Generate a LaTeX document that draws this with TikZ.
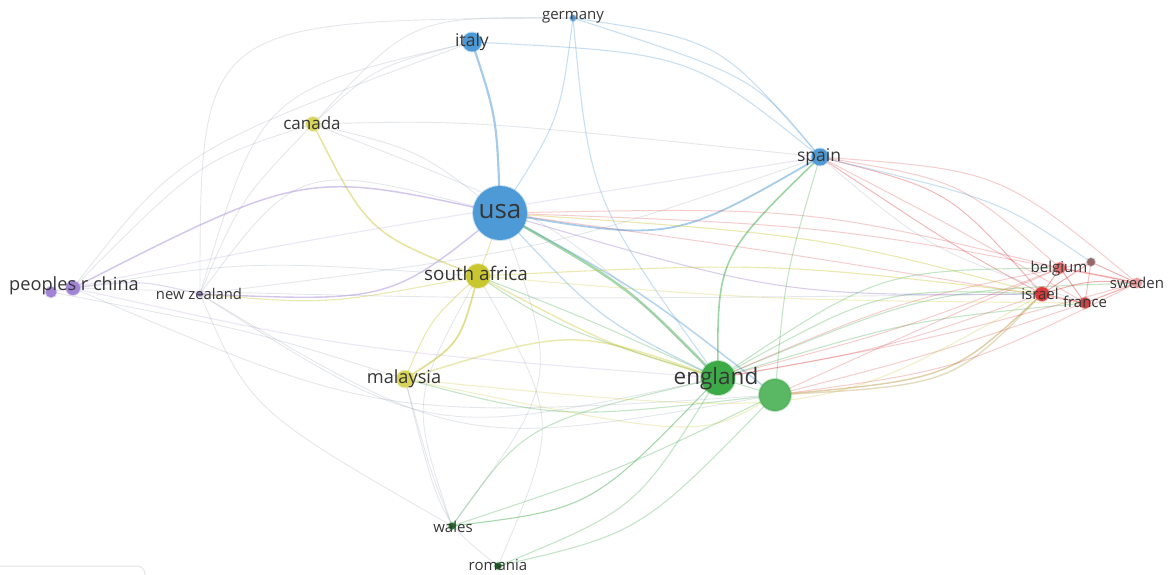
\documentclass[tikz,border=0pt]{standalone}
\usepackage{fontspec}
\setmainfont{Open Sans}
\usetikzlibrary{backgrounds}
\definecolor{cblue}{HTML}{4E9AD6}
\definecolor{cyel}{HTML}{C9C630}
\definecolor{cyel2}{HTML}{D8D45A}
\definecolor{cgreen}{HTML}{3DAA48}
\definecolor{cpurp}{HTML}{A184D6}
\definecolor{cred}{HTML}{D9393B}
\definecolor{cgrey}{HTML}{9AA3B5}
\definecolor{ctan}{HTML}{C8B070}
\definecolor{txt}{HTML}{363636}
\begin{document}
\begin{tikzpicture}[x=1pt,y=-1pt,
  nd/.style={circle, inner sep=0pt, line width=2pt, draw opacity=0.3},
  lbl/.style={text=txt, inner sep=0pt},
  eb/.style={draw=cblue, line width=1.1pt, draw opacity=0.3},
  eg/.style={draw=cgreen, line width=1.1pt, draw opacity=0.3},
  ey/.style={draw=cyel, line width=1.1pt, draw opacity=0.38},
  ep/.style={draw=cpurp, line width=1.1pt, draw opacity=0.3},
  er/.style={draw=cred, line width=1.0pt, draw opacity=0.25},
  ex/.style={draw=cgrey, line width=0.9pt, draw opacity=0.26},
  et/.style={draw=ctan, line width=1.4pt, draw opacity=0.6}]
\useasboundingbox (0,0) rectangle (1170,574);

% nodes
\node[nd, fill=cblue, draw=cblue, minimum size=54pt] (usa) at (500,213) {};
\node[nd, fill=cblue, draw=cblue, minimum size=19pt] (italy) at (472,42) {};
\node[nd, fill=cblue!70!gray, draw=cblue, minimum size=6pt] (germany) at (573,18) {};
\node[nd, fill=cyel2, draw=cyel2, minimum size=14pt] (canada) at (313,124) {};
\node[nd, fill=cblue, draw=cblue, minimum size=17pt] (spain) at (820,157) {};
\node[nd, fill=cyel, draw=cyel, minimum size=24pt] (saf) at (478,276) {};
\node[nd, fill=cpurp, draw=cpurp, minimum size=11pt] (chinaA) at (51,292) {};
\node[nd, fill=cpurp, draw=cpurp, minimum size=14pt] (chinaB) at (73,288) {};
\node[nd, fill=cpurp!60!gray, draw=cpurp, minimum size=5pt] (nz) at (200,294) {};
\node[nd, fill=cyel2, draw=cyel2, minimum size=17pt] (malay) at (405,379) {};
\node[nd, fill=cgreen, draw=cgreen, minimum size=34pt] (eng) at (718,378) {};
\node[nd, fill=cgreen!85!white, draw=cgreen, minimum size=32pt] (gnode) at (775,395) {};
\node[nd, fill=cgreen!60!black, draw=cgreen, minimum size=7pt] (wales) at (452,526) {};
\node[nd, fill=cgreen!50!black, draw=cgreen, minimum size=7pt] (romania) at (498,566) {};
\node[nd, fill=cred!75!white, draw=cred, minimum size=11pt] (belg) at (1060,268) {};
\node[nd, fill=gray!80!red, draw=gray, minimum size=8pt] (greyn) at (1091,262) {};
\node[nd, fill=cred, draw=cred, minimum size=14pt] (israel) at (1042,294) {};
\node[nd, fill=cred!80!gray, draw=cred, minimum size=11pt] (france) at (1085,303) {};
\node[nd, fill=cred!50!white, draw=cred!50!white, minimum size=10pt] (sweden) at (1137,283) {};

\begin{pgfonlayer}{background}
\fill[white] (0,0) rectangle (1170,574);
% faint legend box
\draw[gray!20, line width=1pt, rounded corners=8pt] (-10,566) -- (145,566) -- (145,600);

% blue
\draw[eb, line width=2.2pt, draw opacity=0.5] (usa.center) .. controls (497,118) .. (italy.center);
\draw[eb, line width=1.8pt, draw opacity=0.5] (usa.center) .. controls (673,242) .. (spain.center);
\draw[eb, line width=1.6pt, draw opacity=0.4] (usa.center) .. controls (640,290) .. (gnode.center);
\draw[eg, line width=2.6pt, draw opacity=0.45] (usa.center) .. controls (628,286) .. (eng.center);
\draw[eb, line width=1.2pt, draw opacity=0.35] (usa.center) .. controls (600,320) .. (eng.center);
\draw[eb] (italy.center) .. controls (691,53) .. (spain.center);
\draw[eb] (germany.center) .. controls (755,77) .. (spain.center);
\draw[eb] (germany.center) .. controls (720,40) .. (spain.center);
\draw[eb] (germany.center) .. controls (590,200) .. (eng.center);
\draw[eb] (germany.center) .. controls (560,120) .. (usa.center);
\draw[ex] (germany.center) .. controls (412,16) .. (canada.center);
\draw[ex] (germany.center) .. controls (200,20) .. (nz.center);
\draw[ex] (italy.center) .. controls (376,66) .. (canada.center);
\draw[ex] (italy.center) .. controls (261,91) .. (nz.center);
\draw[ex] (italy.center) .. controls (180,150) .. (chinaB.center);
\draw[ep, draw opacity=0.4] (usa.center) .. controls (783,296) .. (israel.center);
\draw[er] (usa.center) .. controls (807,207) .. (belg.center);
\draw[er] (usa.center) .. controls (830,225) .. (sweden.center);
\draw[er] (usa.center) .. controls (800,255) .. (france.center);
\draw[ey] (usa.center) .. controls (820,235) .. (israel.center);
% spain to red cluster
\draw[er, draw opacity=0.35] (spain.center) .. controls (950,190) .. (israel.center);
\draw[er, draw opacity=0.35] (spain.center) .. controls (960,250) .. (israel.center);
\draw[er] (spain.center) .. controls (1000,170) .. (sweden.center);
\draw[er] (spain.center) .. controls (960,230) .. (france.center);
\draw[er] (spain.center) .. controls (960,180) .. (belg.center);
\draw[eb] (spain.center) .. controls (1000,200) .. (greyn.center);
\draw[ex] (spain.center) .. controls (930,250) .. (france.center);
% green
\draw[eg, line width=1.6pt, draw opacity=0.5] (spain.center) .. controls (717,257) .. (eng.center);
\draw[eg] (spain.center) .. controls (785,275) .. (gnode.center);
\draw[eg, draw opacity=0.45] (eng.center) .. controls (592,509) .. (wales.center);
\draw[eg] (eng.center) .. controls (525,423) .. (wales.center);
\draw[eg] (eng.center) .. controls (637,509) .. (romania.center);
\draw[eg] (gnode.center) .. controls (641,533) .. (romania.center);
\draw[eg] (gnode.center) .. controls (620,470) .. (wales.center);
\draw[eg] (eng.center) .. controls (590,320) .. (saf.center);
\draw[eg] (gnode.center) .. controls (560,330) .. (saf.center);
\draw[ex] (nz.center) .. controls (430,440) .. (eng.center);
\draw[ex] (nz.center) .. controls (460,450) .. (gnode.center);
\draw[ex] (chinaB.center) .. controls (380,420) .. (gnode.center);
\draw[eg] (malay.center) .. controls (560,420) .. (gnode.center);
\draw[eg] (eng.center) .. controls (880,288) .. (israel.center);
\draw[eg] (eng.center) .. controls (880,270) .. (belg.center);
\draw[eg] (eng.center) .. controls (910,320) .. (france.center);
\draw[eg] (eng.center) .. controls (930,290) .. (sweden.center);
\draw[et] (gnode.center) .. controls (951,379) .. (israel.center);
\draw[et, draw opacity=0.45] (gnode.center) .. controls (953,385) .. (israel.center);
\draw[er] (gnode.center) .. controls (940,320) .. (belg.center);
\draw[er] (gnode.center) .. controls (960,370) .. (sweden.center);
\draw[er] (gnode.center) .. controls (930,355) .. (france.center);
\draw[er] (eng.center) .. controls (880,350) .. (israel.center);
\draw[er] (eng.center) .. controls (900,330) .. (belg.center);
\draw[er] (eng.center) .. controls (930,340) .. (sweden.center);
\draw[er] (eng.center) .. controls (900,300) .. (greyn.center);
% yellow
\draw[ey, line width=1.6pt, draw opacity=0.45] (saf.center) .. controls (368,233) .. (canada.center);
\draw[ey, line width=1.7pt, draw opacity=0.55] (saf.center) .. controls (460,344) .. (malay.center);
\draw[ey] (saf.center) .. controls (430,320) .. (malay.center);
\draw[ey, line width=1.5pt] (malay.center) .. controls (573,327) .. (eng.center);
\draw[ey, line width=1.4pt] (saf.center) .. controls (608,345) .. (eng.center);
\draw[ey] (saf.center) .. controls (327,305) .. (nz.center);
\draw[ey] (saf.center) .. controls (490,245) .. (usa.center);
\draw[ey] (saf.center) .. controls (770,262) .. (israel.center);
\draw[ey, draw opacity=0.25] (saf.center) .. controls (760,300) .. (france.center);
\draw[ey, draw opacity=0.25] (malay.center) .. controls (820,420) .. (israel.center);
\draw[ey, draw opacity=0.25] (malay.center) .. controls (700,440) .. (gnode.center);
\draw[ex] (canada.center) .. controls (240,200) .. (nz.center);
\draw[ex] (canada.center) .. controls (420,150) .. (usa.center);
\draw[ex] (canada.center) .. controls (470,120) .. (spain.center);
\draw[ex] (canada.center) .. controls (560,220) .. (eng.center);
\draw[ex] (saf.center) .. controls (410,400) .. (wales.center);
\draw[ex] (malay.center) .. controls (430,470) .. (wales.center);
\draw[ex] (saf.center) .. controls (560,420) .. (romania.center);
\draw[ex] (usa.center) .. controls (560,380) .. (wales.center);
\draw[ex] (malay.center) .. controls (440,520) .. (romania.center);
% purple
\draw[ep, line width=1.5pt, draw opacity=0.45] (chinaB.center) .. controls (305,170) .. (usa.center);
\draw[ep, line width=1.4pt, draw opacity=0.45] (nz.center) .. controls (390,302) .. (usa.center);
\draw[ep] (chinaB.center) .. controls (140,280) .. (nz.center);
\draw[ep, draw opacity=0.2] (chinaA.center) .. controls (300,240) .. (spain.center);
\draw[ep, draw opacity=0.2] (chinaB.center) .. controls (350,350) .. (eng.center);
\draw[ex] (chinaB.center) .. controls (500,300) .. (israel.center);
\draw[ex] (chinaA.center) .. controls (250,330) .. (malay.center);
\draw[ex] (chinaB.center) .. controls (250,260) .. (saf.center);
\draw[ex] (nz.center) .. controls (250,410) .. (wales.center);
\draw[ex] (nz.center) .. controls (300,160) .. (usa.center);
\draw[ex] (nz.center) .. controls (550,250) .. (spain.center);
\draw[ex] (chinaB.center) .. controls (200,160) .. (canada.center);
% red internal
\draw[er, draw opacity=0.4] (belg.center) -- (israel.center);
\draw[er, draw opacity=0.4] (israel.center) -- (france.center);
\draw[er, draw opacity=0.4] (belg.center) .. controls (1100,275) .. (sweden.center);
\draw[er, draw opacity=0.4] (israel.center) .. controls (1090,280) .. (sweden.center);
\draw[er, draw opacity=0.4] (france.center) -- (sweden.center);
\draw[er, draw opacity=0.4] (greyn.center) -- (israel.center);
\draw[er, draw opacity=0.4] (greyn.center) -- (sweden.center);
\draw[er, draw opacity=0.4] (belg.center) -- (france.center);
\draw[er, draw opacity=0.3] (greyn.center) -- (france.center);
\end{pgfonlayer}

% labels
\node[lbl, font=\fontsize{26}{26}\selectfont] at (500,212) {usa};
\node[lbl, font=\fontsize{22.5}{22.5}\selectfont] at (716,379) {england};
\node[lbl, font=\fontsize{18.8}{18.8}\selectfont] at (476,273) {south africa};
\node[lbl, font=\fontsize{18.2}{18.2}\selectfont] at (74,286) {peoples r china};
\node[lbl, font=\fontsize{14.8}{14.8}\selectfont] at (199,294) {new zealand};
\node[lbl, font=\fontsize{18.2}{18.2}\selectfont] at (404,379) {malaysia};
\node[lbl, font=\fontsize{17}{17}\selectfont] at (312,123) {canada};
\node[lbl, font=\fontsize{17.5}{17.5}\selectfont] at (819,157) {spain};
\node[lbl, font=\fontsize{17.5}{17.5}\selectfont] at (472,42) {italy};
\node[lbl, font=\fontsize{15}{15}\selectfont] at (573,17) {germany};
\node[lbl, font=\fontsize{15}{15}\selectfont] at (453,527) {wales};
\node[lbl, font=\fontsize{15}{15}\selectfont] at (498,565) {romania};
\node[lbl, font=\fontsize{15}{15}\selectfont] at (1059,269) {belgium};
\node[lbl, font=\fontsize{15}{15}\selectfont] at (1040,294) {israel};
\node[lbl, font=\fontsize{15}{15}\selectfont] at (1085,302) {france};
\node[lbl, font=\fontsize{15}{15}\selectfont] at (1137,283) {sweden};
\end{tikzpicture}
\end{document}
